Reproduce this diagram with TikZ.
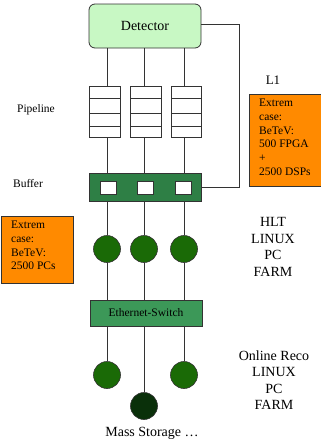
\documentclass[tikz,border=0pt]{standalone}
\usepackage{fontspec}
\setmainfont{Liberation Serif}
\definecolor{detfill}{HTML}{C8F8C4}
\definecolor{buffill}{HTML}{2E7F45}
\definecolor{pcfill}{HTML}{1A6A06}
\definecolor{swfill}{HTML}{3C9858}
\definecolor{msfill}{HTML}{0A300A}
\definecolor{orangebox}{HTML}{FF8A00}
\begin{document}
\begin{tikzpicture}[x=1pt,y=-1pt,
  wire/.style={draw=black!80,line width=0.8pt},
  pipebox/.style={draw=black!80,line width=0.8pt,fill=white,minimum width=31pt,minimum height=51pt,inner sep=0pt,
    path picture={
      \draw[black!80,line width=0.8pt] ([yshift=-12pt]path picture bounding box.north west) -- ([yshift=-12pt]path picture bounding box.north east);
      \draw[black!80,line width=0.8pt] ([yshift=-27pt]path picture bounding box.north west) -- ([yshift=-27pt]path picture bounding box.north east);
      \draw[black!80,line width=0.8pt] ([yshift=11pt]path picture bounding box.south west) -- ([yshift=11pt]path picture bounding box.south east);
    }},
  cell/.style={draw=black!80,line width=0.8pt,fill=white,minimum width=16pt,minimum height=13pt,inner sep=0pt},
  pc/.style={circle,draw=black!80,line width=0.6pt,fill=pcfill,minimum size=27pt,inner sep=0pt},
  notebox/.style={draw=black!80,line width=0.8pt,fill=orangebox,minimum width=72pt,anchor=north west,inner sep=0pt},
  notetext/.style={anchor=north west,align=left,inner sep=0pt,font=\fontsize{11.5}{13.7}\selectfont},
  lbl/.style={font=\fontsize{11.5}{13}\selectfont},
  big/.style={font=\fontsize{14}{16.5}\selectfont,align=center}
]
\useasboundingbox (0,0) rectangle (321,445);

% column positions
\coordinate (c1) at (107,0);
\coordinate (c2) at (144,0);
\coordinate (c3) at (184,0);

% detector
\node[draw=black!80,line width=0.8pt,fill=detfill,rounded corners=6pt,minimum width=112pt,minimum height=44pt,
  font=\fontsize{14}{16}\selectfont] (det) at (145,26) {Detector};

% pipelines
\node[pipebox] (p1) at (104.5,111.5) {};
\node[pipebox] (p2) at (145.5,111.5) {};
\node[pipebox,minimum width=30pt] (p3) at (186,111.5) {};

% buffer
\node[draw=black!80,line width=0.8pt,fill=buffill,minimum width=112pt,minimum height=28pt,inner sep=0pt] (buf) at (145,187) {};
\node[cell] (b1) at (108,187.5) {};
\node[cell] (b2) at (145,187.5) {};
\node[cell] (b3) at (183,187.5) {};

% Ethernet switch
\node[draw=black!80,line width=0.8pt,fill=swfill,minimum width=112pt,minimum height=26pt,inner sep=0pt,
  font=\fontsize{11.5}{13}\selectfont] (sw) at (146,313) {Ethernet-Switch};

% farm nodes
\node[pc] (h1) at (107,249) {};
\node[pc] (h2) at (144,249) {};
\node[pc] (h3) at (184,249) {};
\node[pc] (r1) at (107,375) {};
\node[pc] (r3) at (184,375) {};
\node[pc,fill=msfill] (ms) at (144,406) {};

% data paths
\draw[wire] (det.south -| c1) -- (p1.north -| c1);
\draw[wire] (det.south -| c2) -- (p2.north -| c2);
\draw[wire] (det.south -| c3) -- (p3.north -| c3);
\draw[wire] (p1.south -| c1) -- (buf.north -| c1);
\draw[wire] (p2.south -| c2) -- (buf.north -| c2);
\draw[wire] (p3.south -| c3) -- (buf.north -| c3);
\draw[wire] (buf.south -| c1) -- (h1.north);
\draw[wire] (h1.south) -- (sw.north -| c1);
\draw[wire] (buf.south -| c2) -- (h2.north);
\draw[wire] (h2.south) -- (sw.north -| c2);
\draw[wire] (buf.south -| c3) -- (h3.north);
\draw[wire] (h3.south) -- (sw.north -| c3);
\draw[wire] (sw.south -| c1) -- (r1.north);
\draw[wire] (sw.south -| c2) -- (ms.north);
\draw[wire] (sw.south -| c3) -- (r3.north);

% L1 feedback from detector to buffer
\coordinate (fb) at (239,24);
\draw[wire] (det.east |- fb) -- (fb) |- (buf.east);

% labels
\node[lbl] (lp) at (36,110) {Pipeline};
\node[lbl] (lb) at (28,184) {Buffer};
\node[font=\fontsize{13}{15}\selectfont] (l1) at (273,80) {L1};
\node[big] (hlt) at (273,247) {HLT\\LINUX\\PC\\FARM};
\node[big] (reco) at (274,380) {Online Reco\\LINUX\\PC\\FARM};
\node[big] (mst) at (152,433) {Mass Storage \dots};

% notes
\node[notebox,minimum height=92pt] (n1) at (249,94) {};
\node[notetext] (n1t) at (259,99) {Extrem\\case:\\BeTeV:\\500 FPGA\\+\\2500 DSPs};
\node[notebox,minimum height=67pt] (n2) at (0.5,216) {};
\node[notetext] (n2t) at (11,221) {Extrem\\case:\\BeTeV:\\2500 PCs};
\end{tikzpicture}
\end{document}
